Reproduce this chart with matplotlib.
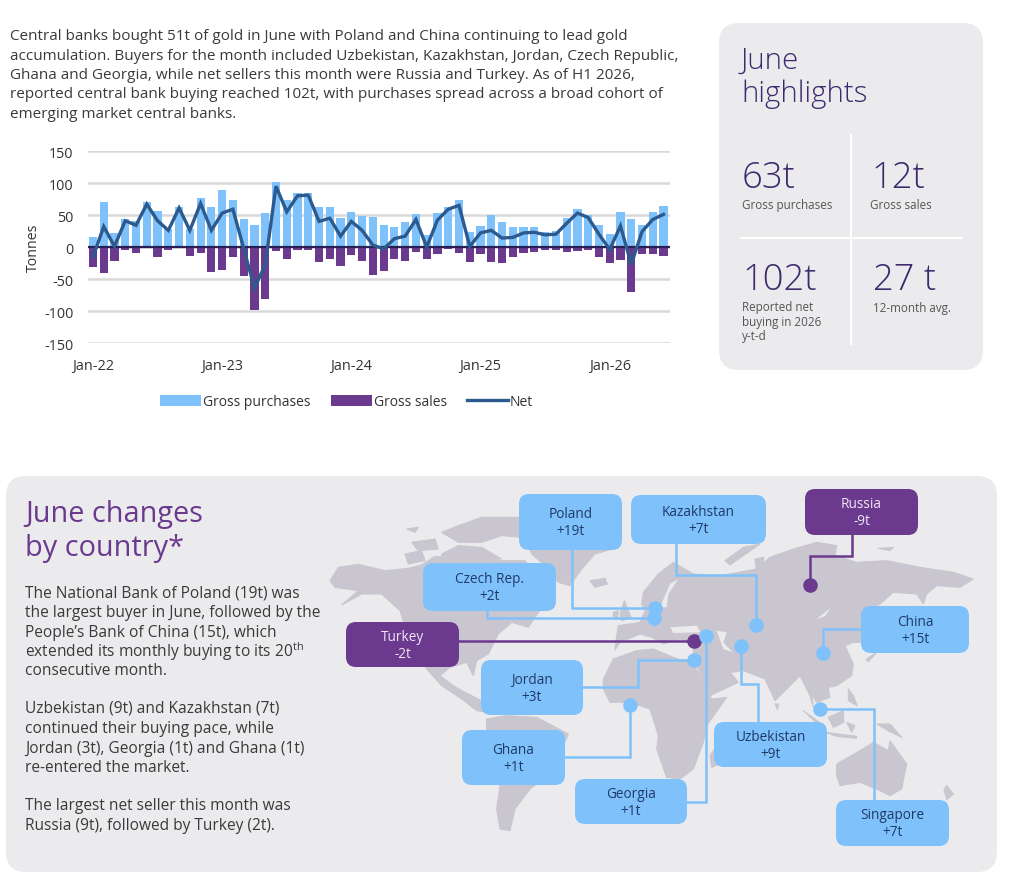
import matplotlib
matplotlib.use("Agg")
import matplotlib.pyplot as plt
from matplotlib.patches import FancyBboxPatch, Polygon, Patch
from matplotlib.lines import Line2D

plt.rcParams['font.family'] = ['Open Sans', 'DejaVu Sans']
plt.rcParams['mathtext.default'] = 'regular'
plt.rcParams['axes.unicode_minus'] = False

# ---------- data ----------
gross_purchases = [15, 71, 22, 44, 41, 71, 57, 28, 63, 28, 77, 63, 89, 74, 44, 35, 53, 102,
                   74, 85, 85, 63, 63, 46, 54, 48, 47, 34, 32, 39, 51, 19, 53, 62, 74, 24,
                   33, 50, 39, 31, 31, 31, 23, 25, 45, 60, 50, 35, 21, 54, 44, 35, 54, 64]
gross_sales = [-31, -40, -22, -4, -9, -2, -15, -4, -2, -14, -10, -39, -36, -16, -46, -99, -81, -7,
               -19, -5, -4, -23, -18, -29, -13, -22, -44, -37, -19, -22, -8, -19, -11, -3, -9, -23,
               -11, -24, -25, -15, -9, -8, -4, -5, -8, -7, -4, -15, -25, -21, -71, -11, -11, -14]
net = [-16, 32, 1, 41, 34, 67, 41, 26, 61, 26, 68, 26, 53, 59, -2, -64, -28, 95,
       55, 80, 81, 40, 45, 17, 40, 26, 3, -3, 13, 17, 43, 0, 42, 59, 65, 1,
       22, 26, 14, 15, 22, 23, 19, 20, 37, 53, 46, 20, -4, 33, -27, 24, 43, 51]
x_ticks = [0, 12, 24, 36, 48]
x_labels = ['Jan-22', 'Jan-23', 'Jan-24', 'Jan-25', 'Jan-26']
y_ticks = [150, 100, 50, 0, -50, -100, -150]

countries = ['Poland', 'Kazakhstan', 'Russia', 'Czech Rep.', 'Turkey', 'China',
             'Jordan', 'Ghana', 'Georgia', 'Uzbekistan', 'Singapore']
changes = [19, 7, -9, 2, -2, 15, 3, 1, 1, 9, 7]

intro = ["Central banks bought 51t of gold in June with Poland and China continuing to lead gold",
         "accumulation. Buyers for the month included Uzbekistan, Kazakhstan, Jordan, Czech Republic,",
         "Ghana and Georgia, while net sellers this month were Russia and Turkey. As of H1 2026,",
         "reported central bank buying reached 102t, with purchases spread across a broad cohort of",
         "emerging market central banks."]
body = ["The National Bank of Poland (19t) was", "the largest buyer in June, followed by the",
        "People’s Bank of China (15t), which", "extended its monthly buying to its 20$^{th}$",
        "consecutive month.",
        "Uzbekistan (9t) and Kazakhstan (7t)", "continued their buying pace, while",
        "Jordan (3t), Georgia (1t) and Ghana (1t)", "re-entered the market.",
        "The largest net seller this month was", "Russia (9t), followed by Turkey (2t)."]
body_y = [594, 613, 633, 652, 671, 709, 729, 749, 768, 806, 826]

# ---------- style ----------
BLUE = '#7fc1fb'
PURPLE = '#6b3a8e'
NAVY = '#2c5a8e'
PANEL = '#ebebee'
LAND = '#c9c6cf'
DARK = '#3a3a3a'
HEAD = '#3d2a6e'
W, H = 1024, 887

fig = plt.figure(figsize=(W / 100, H / 100), dpi=100, facecolor='white')
bg = fig.add_axes([0, 0, 1, 1])
bg.set_xlim(0, W)
bg.set_ylim(H, 0)
bg.axis('off')


def rbox(ax, x0, y0, x1, y1, color, r=10, z=2):
    ax.add_patch(FancyBboxPatch((x0, y0), x1 - x0, y1 - y0, boxstyle=f"round,pad=0,rounding_size={r}",
                                fc=color, ec='none', zorder=z))


rbox(bg, 719, 24, 983, 371, PANEL, 20, 1)
rbox(bg, 6, 477, 997, 873, PANEL, 20, 1)

for i, line in enumerate(intro):
    bg.text(10, 37 + i * 19.3, line, fontsize=11.0, color=DARK, va='center', ha='left')

# highlights
bg.text(741, 61, 'June', fontsize=21.2, color=HEAD, va='center', fontweight='light')
bg.text(741, 94, 'highlights', fontsize=21.2, color=HEAD, va='center', fontweight='light')
bg.plot([851, 851], [136, 345], color='white', lw=1.5, zorder=2)
bg.plot([741, 962], [239, 239], color='white', lw=1.5, zorder=2)
for x, y, s in [(742, 179, '63t'), (871, 179, '12t'), (742, 281, '102t'), (873, 281, '27 t')]:
    bg.text(x, y, s, fontsize=26.2, color=HEAD, va='center', fontweight='light')
for x, y, s in [(742, 206, 'Gross purchases'), (870, 206, 'Gross sales'), (742, 308, 'Reported net'),
                (742, 322.5, 'buying in 2026'), (742, 337, 'y-t-d'), (873, 309, '12-month avg.')]:
    bg.text(x, y, s, fontsize=8.35, color='#555555', va='center')

# left text of lower panel
bg.text(25, 515, 'June changes', fontsize=20.8, color=PURPLE, va='center')
bg.text(25, 549, 'by country*', fontsize=20.8, color=PURPLE, va='center')
for y, line in zip(body_y, body):
    bg.text(25, y, line, fontsize=11.2, color=DARK, va='center')


def crop(ox, oy, pts):
    return [(ox + a / 3, oy + b / 3) for a, b in pts]


land = [
    # North America
    crop(325, 480, [(15, 305), (40, 265), (100, 256), (180, 275), (250, 268), (290, 258), (330, 232), (420, 240),
                    (500, 245), (600, 245), (640, 300), (690, 340), (640, 400), (610, 445), (560, 430), (520, 465),
                    (490, 525), (455, 545), (445, 590), (425, 550), (375, 565), (345, 590), (385, 620), (420, 640),
                    (470, 665), (490, 700), (455, 695), (410, 660), (350, 620), (305, 570), (255, 490), (225, 395),
                    (170, 345), (110, 345), (50, 378), (100, 335), (30, 325)]),
    # Arctic islands
    crop(325, 480, [(240, 225), (290, 215), (300, 245), (250, 255)]),
    crop(325, 480, [(260, 190), (330, 180), (340, 210), (280, 215)]),
    crop(325, 480, [(350, 160), (400, 140), (470, 115), (590, 115), (590, 175), (530, 170), (470, 190), (400, 190)]),
    crop(325, 480, [(350, 225), (400, 200), (470, 205), (530, 240), (350, 250)]),
    crop(325, 480, [(245, 150), (280, 145), (270, 160)]),
    # Greenland
    crop(325, 480, [(580, 130), (620, 120), (880, 130), (880, 205), (810, 225), (770, 270), (735, 320), (700, 310),
                    (660, 260), (620, 225)]),
    # Iceland
    crop(325, 480, [(795, 305), (840, 298), (847, 315), (810, 325)]),
    # UK and Ireland
    crop(325, 480, [(885, 405), (898, 365), (918, 415), (890, 425)]),
    crop(325, 480, [(865, 400), (880, 395), (878, 415), (865, 415)]),
    # South America
    crop(440, 640, [(140, 240), (200, 230), (290, 235), (385, 285), (370, 320), (350, 390), (270, 450), (225, 510),
                    (210, 575), (180, 570), (170, 510), (180, 440), (140, 310)]),
    # Eurasia
    crop(660, 480, [(-55, 375), (-50, 340), (-5, 285), (40, 250), (100, 285), (180, 290), (290, 270), (330, 235),
                    (400, 210), (470, 190), (530, 200), (525, 230), (590, 250), (680, 245), (780, 265), (880, 280),
                    (940, 300), (900, 325), (830, 320), (800, 345), (790, 375), (770, 345), (700, 340), (660, 375),
                    (610, 400), (610, 490), (580, 490), (555, 500), (580, 555), (575, 590), (530, 620), (505, 625),
                    (510, 655), (470, 670), (455, 645), (460, 685), (450, 650), (420, 590), (345, 665), (315, 600),
                    (250, 575), (215, 580), (190, 555), (235, 610), (150, 650), (110, 560), (100, 525), (100, 495),
                    (60, 480), (10, 495), (-25, 475), (-60, 465), (-120, 490), (-135, 512), (-130, 470), (-125, 440),
                    (-60, 430), (-45, 395)]),
    # Africa
    crop(440, 640, [(490, 120), (520, 60), (590, 35), (640, 30), (700, 55), (760, 75), (790, 130), (815, 180),
                    (860, 175), (800, 260), (790, 310), (760, 390), (720, 420), (680, 415), (650, 330), (655, 290),
                    (630, 210), (570, 190), (510, 190), (490, 150)]),
    # Madagascar, Sri Lanka
    crop(660, 640, [(150, 350), (165, 328), (172, 378), (155, 385)]),
    crop(660, 640, [(346, 195), (356, 195), (352, 212)]),
    # Australia
    crop(660, 640, [(530, 375), (600, 335), (640, 310), (685, 335), (690, 305), (740, 375), (725, 450), (690, 470),
                    (650, 450), (600, 430), (540, 440), (530, 410)]),
    # Islands of south-east Asia and the Pacific
    crop(660, 640, [(650, 255), (690, 255), (725, 295), (690, 278)]),
    crop(660, 640, [(505, 235), (550, 215), (552, 250), (520, 265)]),
    crop(660, 640, [(560, 250), (585, 260), (575, 280)]),
    crop(660, 640, [(430, 215), (495, 262), (470, 252)]),
    crop(660, 640, [(495, 280), (590, 292), (590, 298), (530, 292)]),
    crop(660, 640, [(565, 150), (580, 170), (592, 200), (565, 185)]),
    crop(660, 640, [(618, 62), (655, 35), (625, 68)]),
    crop(660, 640, [(860, 440), (880, 465), (860, 482), (852, 452)]),
    # Russian Arctic
    crop(660, 480, [(195, 245), (250, 205), (300, 195), (210, 258)]),
    crop(660, 480, [(285, 240), (312, 235), (305, 285), (290, 280)]),
    crop(660, 480, [(655, 208), (700, 205), (690, 215)]),
]
seas = [
    crop(660, 480, [(170, 455), (200, 460), (190, 490), (218, 520), (190, 510)]),    # Caspian
    crop(660, 480, [(30, 445), (110, 440), (122, 460), (40, 462)]),                   # Black Sea
    crop(660, 480, [(0, 385), (30, 315), (55, 300), (25, 345), (20, 385)]),           # Baltic
    crop(660, 480, [(470, 420), (510, 388), (495, 412)]),                             # Baikal
]
for poly in land:
    bg.add_patch(Polygon(poly, closed=True, fc=LAND, ec=LAND, lw=0.8, joinstyle='round', zorder=2))
for poly in seas:
    bg.add_patch(Polygon(poly, closed=True, fc=PANEL, ec='none', zorder=2.1))

boxes = [(519, 495, 622, 551), (631, 496, 766, 545), (805, 490, 918, 536), (423, 564, 556, 612),
         (346, 623, 459, 668), (861, 607, 969, 654), (481, 661, 583, 716), (462, 731, 565, 786),
         (575, 780, 687, 825), (714, 723, 827, 768), (836, 801, 949, 847)]
paths = [[(572, 551), (572, 609), (655, 609)],
         [(676, 545), (676, 576), (756, 576), (756, 626)],
         [(852, 536), (852, 557), (810, 557), (810, 586)],
         [(487, 612), (487, 619), (654, 619)],
         [(459, 642), (694, 642)],
         [(861, 630), (823, 630), (823, 654)],
         [(583, 688), (638, 688), (638, 661), (694, 661)],
         [(565, 758), (630, 758), (630, 706)],
         [(687, 803), (706, 803), (706, 637)],
         [(758, 723), (758, 685), (741, 685), (741, 647)],
         [(874, 801), (874, 710), (820, 710)]]
for name, val, (x0, y0, x1, y1), path in zip(countries, changes, boxes, paths):
    col = BLUE if val > 0 else PURPLE
    bg.plot([p[0] for p in path], [p[1] for p in path], color=col, lw=1.8, zorder=3,
            solid_joinstyle='miter')
    bg.plot(*path[-1], 'o', color=col, ms=10.5, mec='none', zorder=4)
    rbox(bg, x0, y0, x1, y1, col, 10, 5)
    tc = '#1f3a68' if val > 0 else '#efe6f5'
    cx = (x0 + x1) / 2
    cy = (y0 + y1) / 2
    bg.text(cx, cy - 8, name, fontsize=9.8, color=tc, ha='center', va='center', zorder=6)
    bg.text(cx, cy + 9, f"{val:+d}t", fontsize=9.8, color=tc, ha='center', va='center', zorder=6)

# ---------- chart ----------
L, R, T, B = 88, 670, 152, 344
ax = fig.add_axes([L / W, 1 - B / H, (R - L) / W, (B - T) / H])
ax.patch.set_alpha(0)
months = list(range(len(net)))
ax.bar(months, gross_purchases, width=0.76, color=BLUE, zorder=2)
ax.bar(months, gross_sales, width=0.76, color=PURPLE, zorder=2)
ax.plot(months, net, color=NAVY, lw=2.4, zorder=4, solid_joinstyle='miter')
ax.axhline(0, color='#2a1f55', lw=1.6, zorder=3)
ax.set_xlim(-0.46, 53.6)
ax.set_ylim(-150, 150)
ax.set_yticks(y_ticks)
ax.set_xticks(x_ticks, x_labels)
ax.grid(axis='y', color='#d9d9d9', lw=1.8, zorder=1)
ax.set_axisbelow(True)
ax.tick_params(length=0, labelsize=10.4, labelcolor='#333333')
ax.tick_params(axis='y', pad=10.5)
ax.tick_params(axis='x', pad=10.5)
for s in ax.spines.values():
    s.set_visible(False)
ax.set_ylabel('Tonnes', fontsize=10.2, color='#333333')
ax.yaxis.set_label_coords((41 - L) / (R - L), 0.5)
leg = ax.legend(handles=[Patch(fc=BLUE, label='Gross purchases'), Patch(fc=PURPLE, label='Gross sales'),
                         Line2D([], [], color=NAVY, lw=2.4, label='Net')],
                loc='center', bbox_to_anchor=((346.5 - L) / (R - L), -(403 - B) / (B - T)), ncol=3, frameon=False,
                fontsize=10.0, handlelength=2.95, handletextpad=0.15, columnspacing=1.45, labelcolor='#333333',
                borderpad=0, handleheight=0.9)

fig.savefig('out.png', dpi=100)
